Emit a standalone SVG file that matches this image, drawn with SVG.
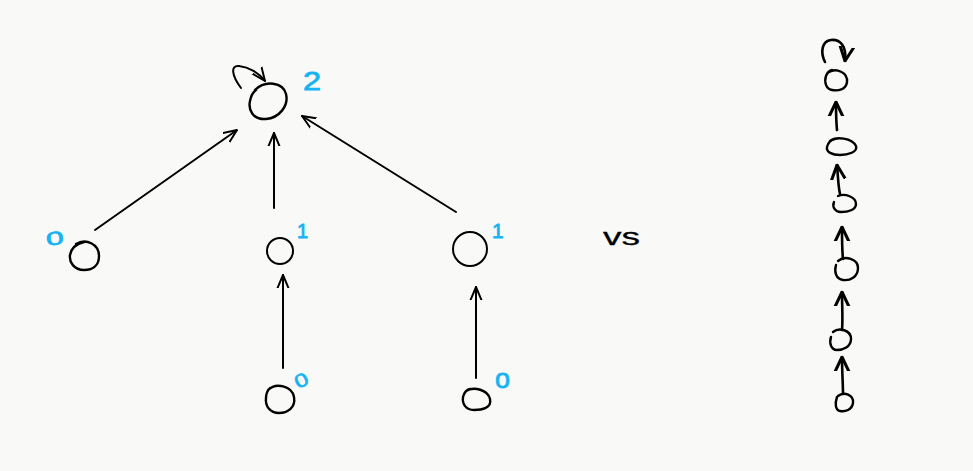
<svg xmlns="http://www.w3.org/2000/svg" width="973" height="471" viewBox="0 0 973 471">
  <defs>
    <marker id="head" viewBox="0 0 10 10" refX="9.5" refY="5" markerUnits="userSpaceOnUse" markerWidth="14" markerHeight="14" orient="auto">
      <path d="M0,1 L9.5,5 L0,9" fill="none" stroke="#000" stroke-width="1.4" stroke-linecap="round" stroke-linejoin="round"/>
    </marker>
    <marker id="headBold" viewBox="0 0 10 10" refX="9.5" refY="5" markerUnits="userSpaceOnUse" markerWidth="15" markerHeight="22" orient="auto">
      <path d="M0,0.5 L9.5,5 L0,9.5" fill="none" stroke="#000" stroke-width="2" stroke-linecap="round" stroke-linejoin="round"/>
    </marker>
  </defs>
  <style>
    .node { fill: none; stroke: #000; stroke-width: 2.4; stroke-linecap: round; }
    .thin { fill: none; stroke: #000; stroke-width: 2; stroke-linecap: round; }
    .edge { fill: none; stroke: #000; stroke-width: 2; stroke-linecap: round; marker-end: url(#head); }
    .chain { fill: none; stroke: #000; stroke-width: 2.6; stroke-linecap: round; marker-end: url(#headBold); }
    .lbl { fill: #17b3f2; stroke: #17b3f2; stroke-width: 0.8; font-family: "Liberation Sans", "DejaVu Sans", sans-serif; }
    .vs { fill: #000; stroke: #000; stroke-width: 0.3; font-family: "Liberation Sans", "DejaVu Sans", sans-serif; font-size: 24px; }
  </style>
  <rect width="973" height="471" fill="#f9f9f8"/>

  <!-- connectors -->
  <g id="edges">
    <path class="edge" d="M241,88 C232,76 230,65 239,66 C249,67 259,73 265,81"/>
    <path class="edge" d="M95,230 L237,130"/>
    <path class="edge" d="M274,208 L274,133"/>
    <path class="edge" d="M456,212 L302,116"/>
    <path class="edge" d="M283,368 L283,275"/>
    <path class="edge" d="M476,378 L476,287"/>

    <!-- chain -->
    <path class="chain" d="M825,62 C820,52 822,41 831,40 C840,39 847,46 845,61"/>
    <path class="chain" d="M837,130 C836,120 836,110 836,102"/>
    <path class="chain" d="M840,194 C838,185 838,175 837,165"/>
    <path class="chain" d="M843,259 C842,250 842,240 842,227"/>
    <path class="chain" d="M842,330 C843,320 842,305 842,292"/>
    <path class="chain" d="M843,394 C843,385 842,370 842,357"/>
  </g>

  <!-- tree nodes -->
  <g id="root">
    <path class="node" d="M255,90 C265,80 283,82 286,94 C289,106 279,118 266,119 C253,120 248,110 250,101 C251,96 253,92 256,90"/>
    <text class="lbl" x="0" y="0" font-size="25" transform="translate(303 90) scale(1.3 1)">2</text>
  </g>
  <g id="leaf-left">
    <path class="node" d="M76,244 C86,238 99,244 99,256 C99,266 92,270 84,270 C74,270 69,262 70,255 C71,249 76,244 84,242"/>
    <text class="lbl" x="0" y="0" font-size="22" transform="translate(47 246) rotate(-8) scale(1.45 0.85)">0</text>
  </g>
  <g id="mid">
    <circle class="thin" cx="280" cy="251" r="13"/>
    <text class="lbl" x="297" y="238" font-size="20">1</text>
  </g>
  <g id="right">
    <circle class="thin" cx="470" cy="249" r="17"/>
    <text class="lbl" x="492" y="238" font-size="21">1</text>
  </g>
  <g id="mid-leaf">
    <path class="node" d="M268,390 C276,382 292,386 294,397 C296,408 287,413 279,413 C270,413 265,406 266,398 C266,394 267,391 270,388"/>
    <text class="lbl" x="0" y="0" font-size="22" transform="translate(298 389) rotate(-25) scale(1.1 0.85)">0</text>
  </g>
  <g id="right-leaf">
    <path class="node" d="M466,391 C474,386 488,390 490,399 C492,408 482,410 474,410 C466,410 462,404 463,397 C464,393 466,390 470,389"/>
    <text class="lbl" x="495" y="388" font-size="27" stroke-width="0">o</text>
  </g>

  <text class="vs" x="603" y="245" textLength="37" lengthAdjust="spacingAndGlyphs">vs</text>

  <!-- chain nodes -->
  <g id="c1"><path class="node" d="M829,72 C836,68 848,72 847,82 C846,90 838,91 832,90 C826,89 824,82 826,76 C827,73 829,71 832,70"/></g>
  <g id="c2"><path class="node" d="M830,141 C836,136 852,138 856,146 C858,152 848,155 840,155 C832,155 826,152 827,147 C828,143 830,140 835,139"/></g>
  <g id="c3"><path class="node" d="M838,196 C845,193 856,197 856,204 C856,210 848,212 841,212 C835,212 832,207 834,202"/></g>
  <g id="c4"><path class="node" d="M838,261 C845,255 858,259 858,268 C858,277 850,281 843,280 C836,279 834,272 836,265"/></g>
  <g id="c5"><path class="node" d="M833,332 C839,327 851,330 851,339 C851,347 843,350 837,350 C831,350 829,343 831,337"/></g>
  <g id="c6"><path class="node" d="M838,396 C844,391 854,395 853,403 C852,410 845,412 840,411 C835,410 835,403 837,397"/></g>
</svg>
